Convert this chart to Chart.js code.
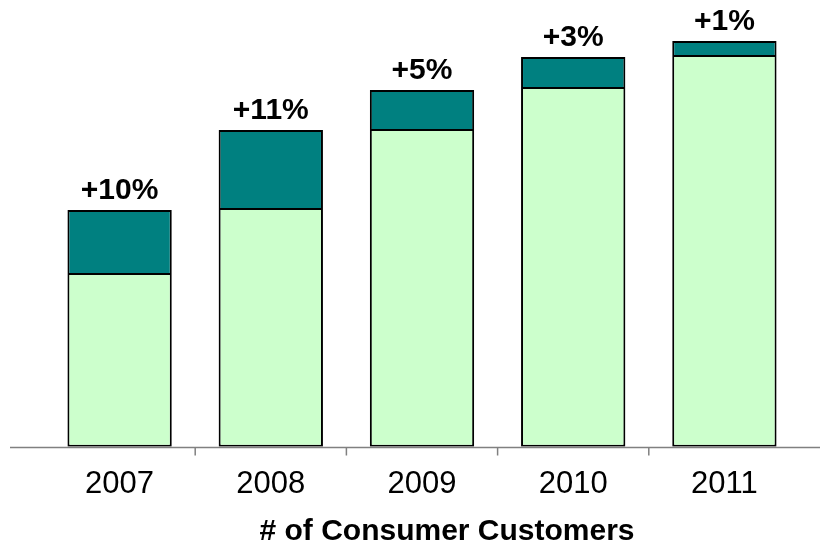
<!DOCTYPE html>
<html>
<head>
<meta charset="utf-8">
<script src="https://cdn.jsdelivr.net/npm/chart.js@4.4.0/dist/chart.umd.min.js"></script>
<style>
  html, body { margin: 0; padding: 0; background: #fff; }
  #wrap { width: 820px; height: 550px; }
</style>
</head>
<body>
<div id="wrap"><canvas id="chart" width="820" height="550"></canvas></div>
<script>
const years = ['2007', '2008', '2009', '2010', '2011'];
const baseValues = [172, 237, 316, 358, 390];
const growthValues = [65, 80, 41, 32, 16];
const growthLabels = ['+10%', '+11%', '+5%', '+3%', '+1%'];

const FONT = "'Liberation Sans', Arial, sans-serif";

// axis line across the full width, plus small ticks between the years
const axisLine = {
  id: 'axisLine',
  afterDatasetsDraw(chart) {
    const { ctx, chartArea, scales } = chart;
    const x = scales.x;
    const y = Math.round(chartArea.bottom) + 0.5;
    ctx.save();
    ctx.strokeStyle = '#808080';
    ctx.lineWidth = 1.5;
    ctx.beginPath();
    ctx.moveTo(10, y);
    ctx.lineTo(chart.width, y);
    for (let i = 0; i < years.length - 1; i++) {
      const tx = (x.getPixelForValue(i) + x.getPixelForValue(i + 1)) / 2;
      ctx.moveTo(tx, y);
      ctx.lineTo(tx, y + 8);
    }
    ctx.stroke();
    ctx.restore();
  }
};

// growth labels above each stacked bar
const topLabels = {
  id: 'topLabels',
  afterDatasetsDraw(chart) {
    const { ctx } = chart;
    const meta = chart.getDatasetMeta(1);
    ctx.save();
    ctx.font = 'bold 30px ' + FONT;
    ctx.fillStyle = '#000';
    ctx.textAlign = 'center';
    ctx.textBaseline = 'alphabetic';
    meta.data.forEach((bar, i) => {
      ctx.fillText(growthLabels[i], bar.x, bar.y - 11);
    });
    ctx.restore();
  }
};

new Chart(document.getElementById('chart'), {
  type: 'bar',
  data: {
    labels: years,
    datasets: [
      {
        data: baseValues,
        backgroundColor: '#CCFFCC',
        borderColor: '#000',
        borderWidth: { top: 0, left: 2, right: 2, bottom: 2 },
        borderSkipped: false
      },
      {
        data: growthValues,
        backgroundColor: '#008080',
        borderColor: '#000',
        borderWidth: 2,
        borderSkipped: false
      }
    ]
  },
  options: {
    responsive: false,
    animation: false,
    layout: { padding: { left: 44, right: 20, top: 0, bottom: 0 } },
    datasets: { bar: { categoryPercentage: 1, barPercentage: 0.69 } },
    plugins: {
      legend: { display: false },
      tooltip: { enabled: false }
    },
    scales: {
      x: {
        stacked: true,
        grid: { display: false },
        border: { display: false },
        ticks: { color: '#000', font: { family: FONT, size: 31 }, padding: 11 },
        title: {
          display: true,
          // leading spaces push the title right, as in the original
          text: '\u00A0\u00A0\u00A0\u00A0\u00A0\u00A0# of Consumer Customers',
          color: '#000',
          font: { family: FONT, size: 30, weight: 'bold' },
          padding: { top: 0, bottom: 0 }
        }
      },
      y: {
        stacked: true,
        display: false,
        min: 0,
        max: 447
      }
    }
  },
  plugins: [axisLine, topLabels]
});
</script>
</body>
</html>
